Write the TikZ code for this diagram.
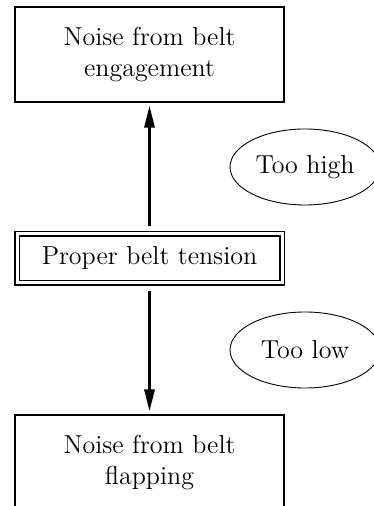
\documentclass[tikz,border=0pt]{standalone}
\usetikzlibrary{arrows.meta,shapes.geometric}

\begin{document}
\begin{tikzpicture}[x=.5pt,y=-.5pt,
    font=\fontsize{13}{15.5}\selectfont,
    effectbox/.style={draw,line width=.55pt,minimum width=134.5pt,minimum height=47.5pt,align=center,inner sep=0pt},
    statebox/.style={draw,line width=.55pt,double,double distance=1.5pt,minimum width=132.5pt,minimum height=24.5pt,inner sep=0pt},
    cause/.style={draw,ellipse,line width=.45pt,minimum width=75pt,minimum height=38pt,inner sep=0pt},
    push/.style={line width=1.5pt,-{Triangle[length=11pt,width=5pt]},shorten <=3.5pt,shorten >=1.5pt}]
  \useasboundingbox (0,0) rectangle (373,506);
  \node[effectbox] (high) at (149.5,54.5) {Noise from belt\\engagement};
  \node[statebox] (proper) at (149.5,258.5) {Proper belt tension};
  \node[effectbox] (low) at (149.5,462.5) {Noise from belt\\flapping};
  \node[cause] (toohigh) at (305,167) {Too high};
  \node[cause] (toolow) at (305,350) {Too low};
  \draw[push] (proper) -- (high);
  \draw[push] (proper) -- (low);
\end{tikzpicture}
\end{document}
